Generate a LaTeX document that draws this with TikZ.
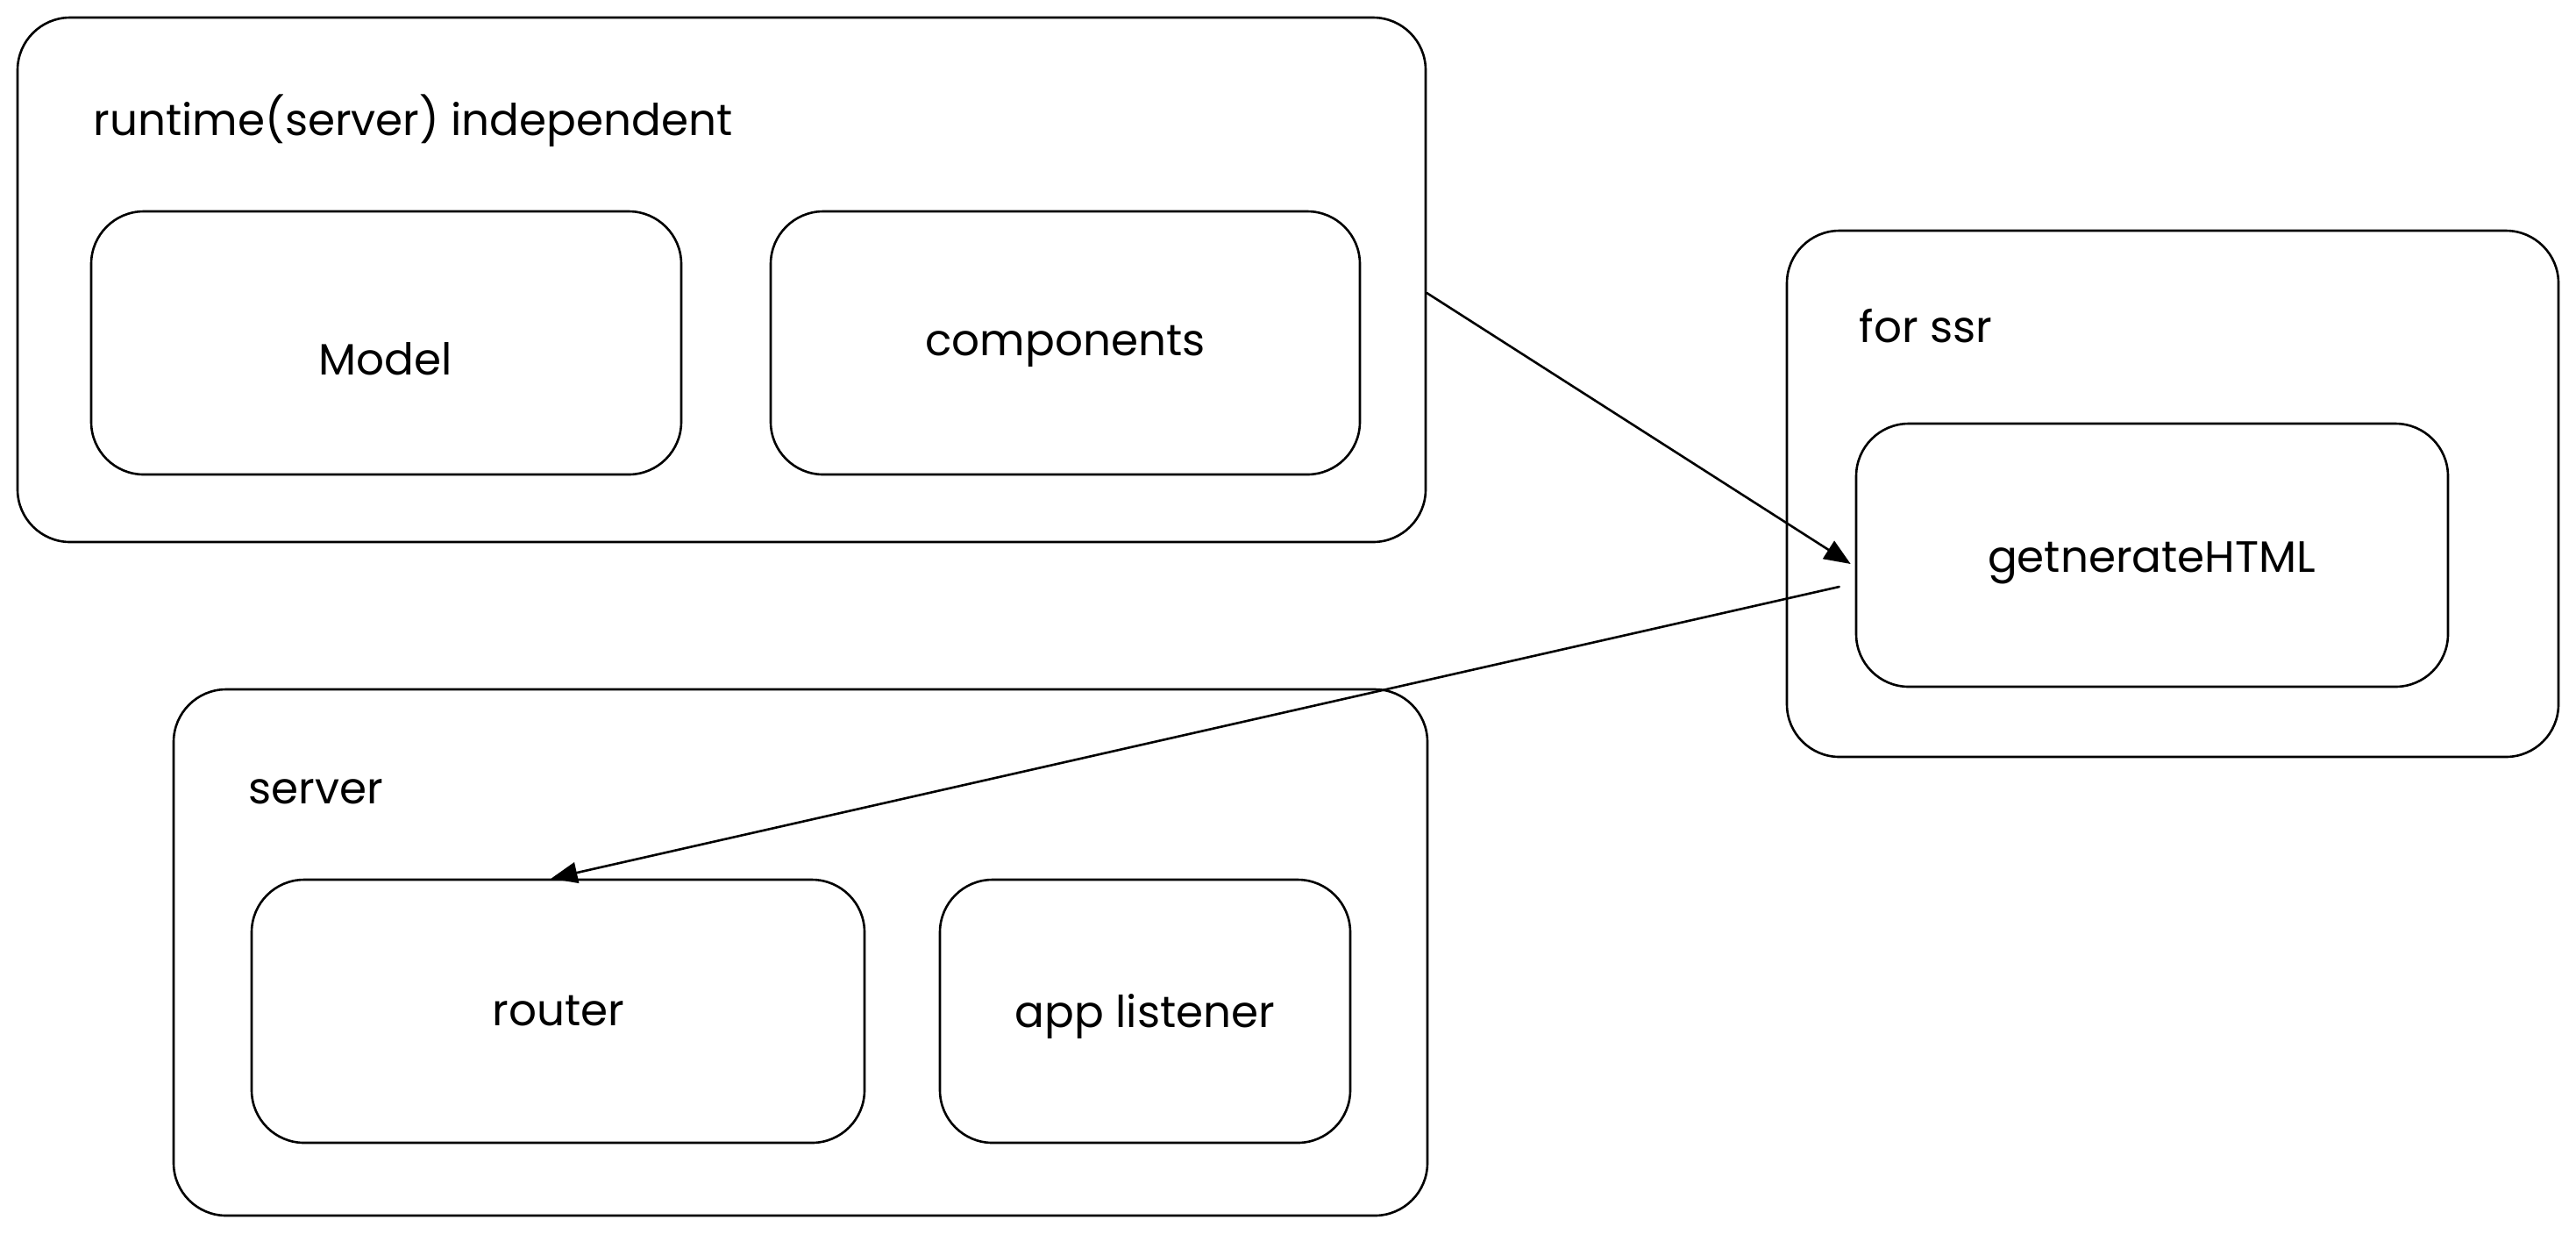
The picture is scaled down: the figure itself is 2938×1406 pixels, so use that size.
\documentclass[tikz,border=0pt]{standalone}
\usepackage{fontspec}
\setmainfont{Poppins}
\usetikzlibrary{arrows.meta,fit}
\begin{document}
\begin{tikzpicture}[x=0.25pt,y=-0.25pt,
  box/.style={draw, line width=0.65pt, rounded corners=15pt, inner sep=0pt},
  lbl/.style={font=\fontsize{12.5}{15}\selectfont, inner sep=0pt, anchor=base},
  ttl/.style={font=\fontsize{12.5}{15}\selectfont, inner sep=0pt, anchor=base west},
  arr/.style={draw, line width=0.65pt, line cap=round, -{Triangle[length=7.5pt,width=6pt]}}]
\useasboundingbox (0,0) rectangle (2938,1406);
% runtime independent group
\node[box, fit={(20,20) (1626,618)}] (rt) {};
\node[ttl] (rtT) at (106,154) {runtime(server) independent};
\node[box, fit={(104,241) (777,541)}] (model) {};
\node[lbl] (modelT) at (440,427) {Model};
\node[box, fit={(879,241) (1551,541)}] (comp) {};
\node[lbl] (compT) at (1215,405) {components};
% for ssr group
\node[box, fit={(2038,263) (2918,863)}] (ssr) {};
\node[ttl] (ssrT) at (2120,390) {for ssr};
\node[box, fit={(2117,483) (2792,783)}] (gen) {};
\node[lbl] (genT) at (2454,652) {getnerateHTML};
% server group
\node[box, fit={(198,786) (1628,1386)}] (srv) {};
\node[ttl] (srvT) at (283,916) {server};
\node[box, fit={(287,1003) (986,1303)}] (router) {};
\node[lbl] (routerT) at (637,1169) {router};
\node[box, fit={(1072,1003) (1540,1303)}] (app) {};
\node[lbl] (appT) at (1306,1171) {app listener};
% connectors
\draw[arr] ([yshift=-3.75pt]rt.east) -- ([xshift=-1.25pt,yshift=-2.5pt]gen.west);
\draw[arr] ([xshift=-4.5pt,yshift=-9pt]gen.west) -- ([xshift=-2pt]router.north);
\end{tikzpicture}
\end{document}
